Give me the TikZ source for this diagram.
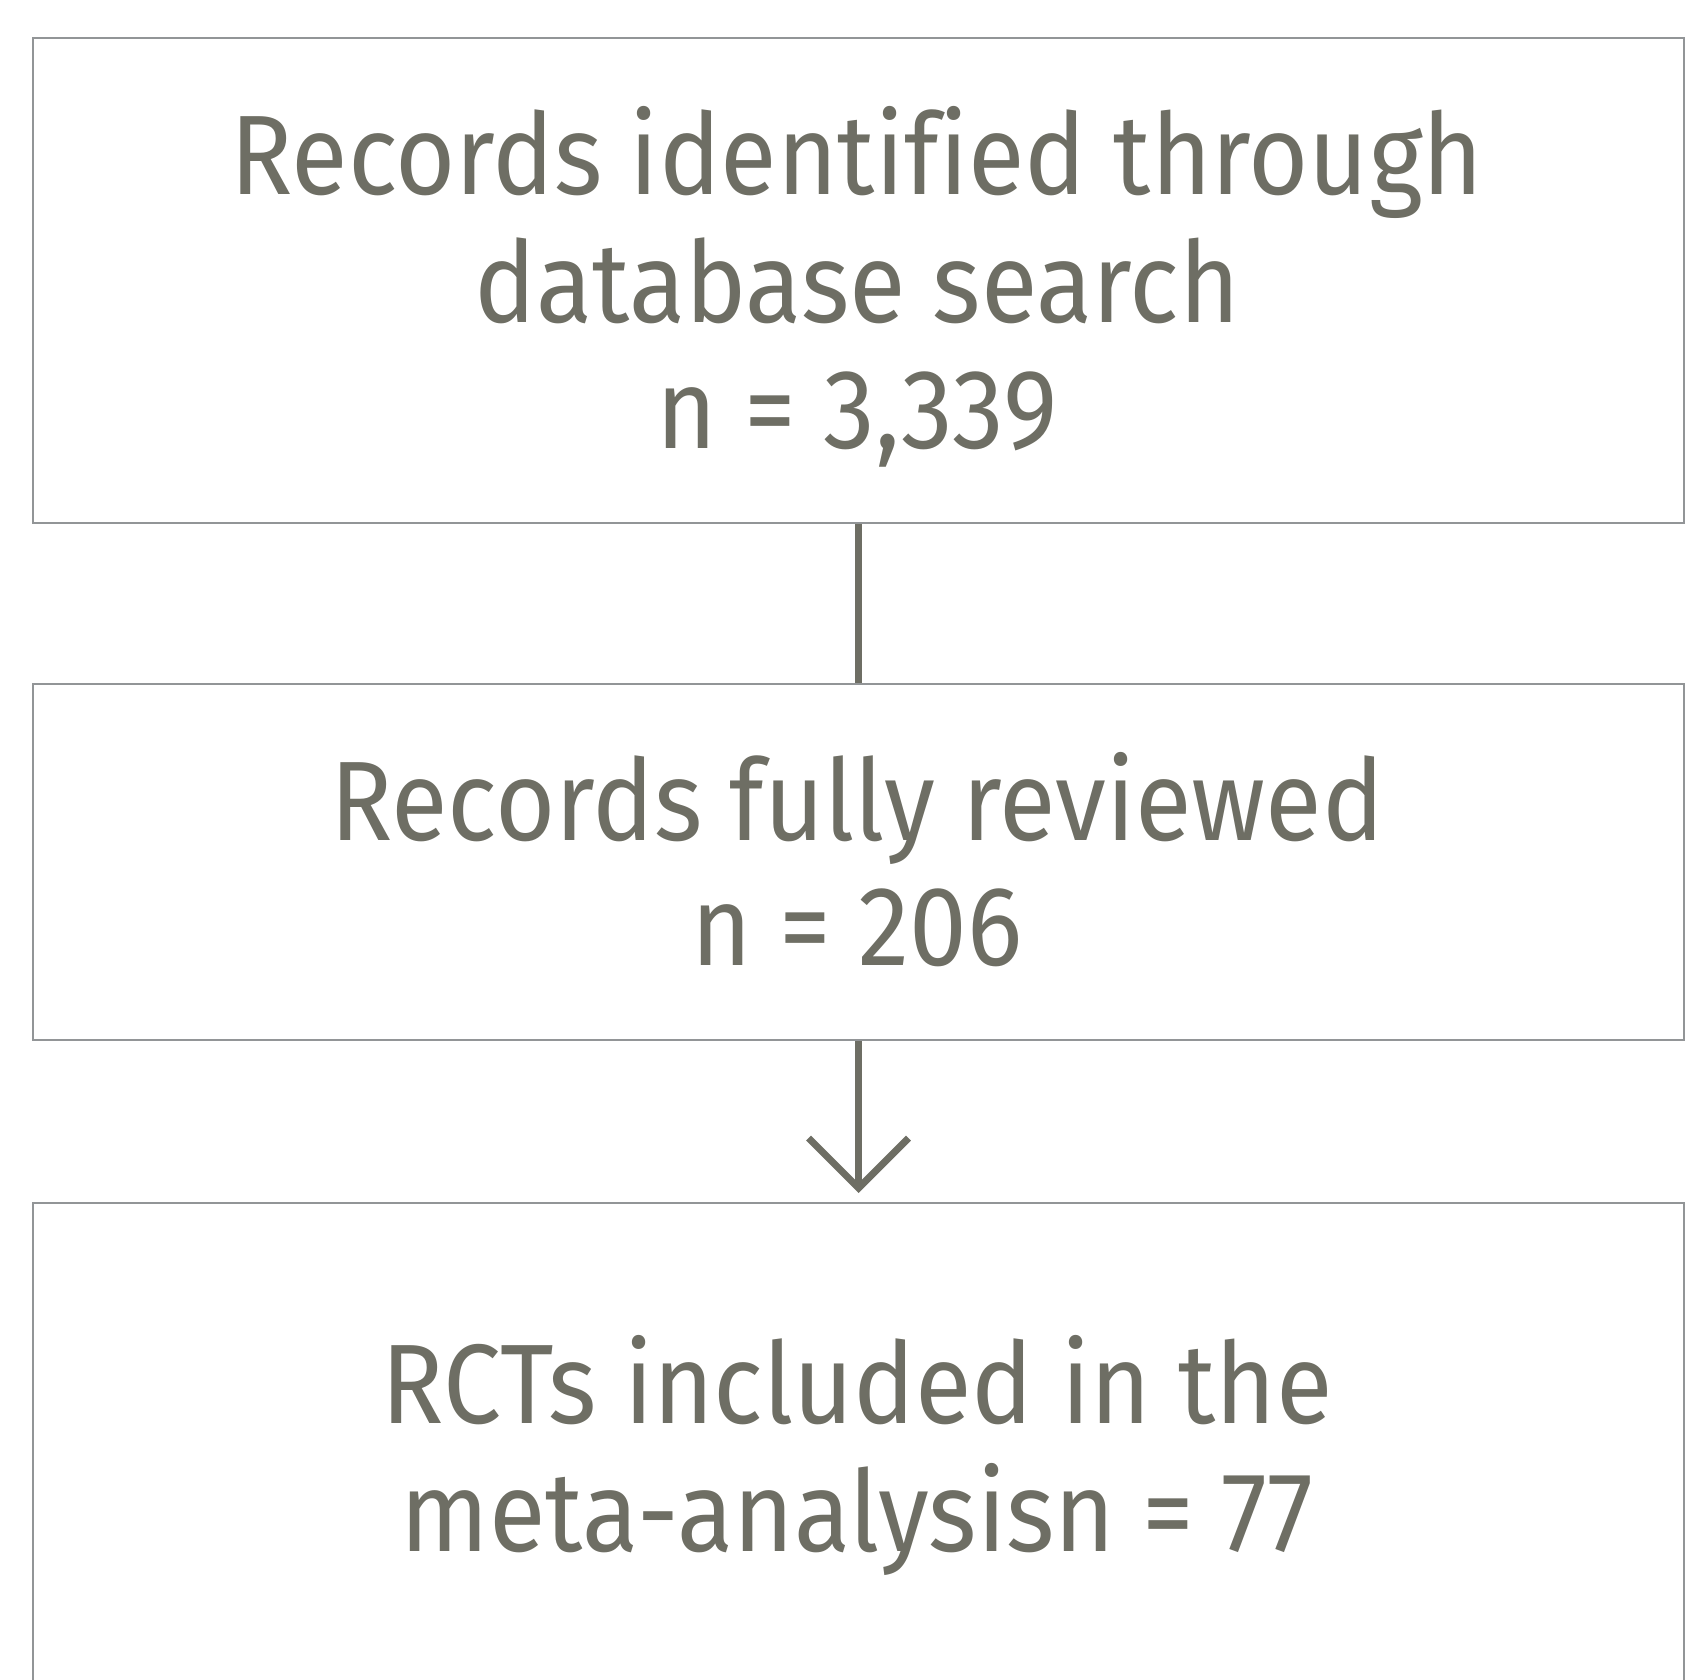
\documentclass[tikz,border=0pt]{standalone}
\usepackage{fontspec}
\setmainfont{Fira Sans}[FakeStretch=0.915,Ligatures=NoCommon]
\usetikzlibrary{arrows.meta}
\definecolor{txtgray}{RGB}{110,110,100}
\definecolor{boxgray}{RGB}{146,149,151}
\begin{document}
\begin{tikzpicture}[x=1pt,y=-1pt,
  box/.style={draw=boxgray,line width=2pt,anchor=north west,inner sep=0pt},
  lbl/.style={anchor=base,text=txtgray,inner sep=0pt,font=\fontsize{113}{128}\selectfont},
  conn/.style={draw=txtgray,line width=7pt}]
\useasboundingbox (0,0) rectangle (1695,1680);
\node[box,minimum width=1651pt,minimum height=485pt] (b1) at (32,37) {};
\node[box,minimum width=1651pt,minimum height=356pt] (b2) at (32,683) {};
\node[box,minimum width=1651pt,minimum height=600pt] (b3) at (32,1202) {};
\node[lbl] (t1a) at (857,194.6) {Records identified through};
\node[lbl] (t1b) at (857,322.2) {database search};
\node[lbl] (t1c) at (857,448.6) {n = 3,339};
\node[lbl] (t2a) at (857,840) {Records fully reviewed};
\node[lbl] (t2b) at (857,965) {n = 206};
\node[lbl] (t3a) at (857,1423) {RCTs included in the};
\node[lbl] (t3b) at (857,1551) {meta-analysisn = 77};
\draw[conn] (b1.south) -- (b2.north);
\draw[conn,shorten >=9pt,-{Straight Barb[length=50pt,width=100pt,line width=7pt]}] (b2.south) -- (b3.north);
\end{tikzpicture}
\end{document}
